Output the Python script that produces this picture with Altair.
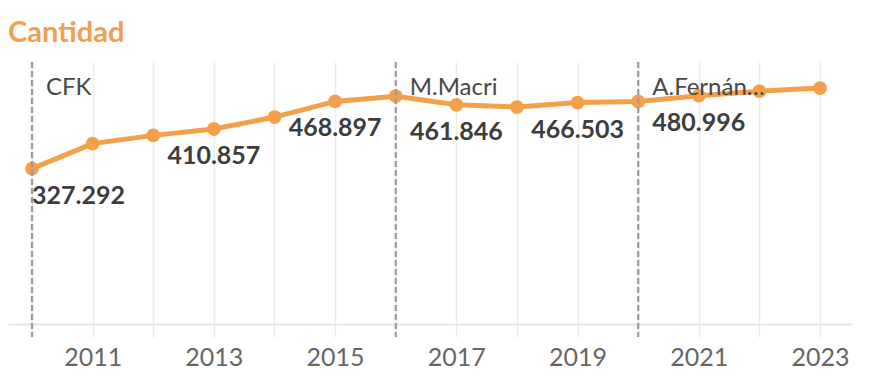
import altair as alt
import pandas as pd

# ---- data ----
years = list(range(2010, 2024))
values = [327.292, 380.0, 397.4, 410.857, 436.0, 468.897, 480.0,
          461.846, 457.0, 466.503, 469.0, 480.996, 490.6, 497.0]
label_years = [2013, 2015, 2017, 2019, 2021]
first_label_year = [2010]
period_years = [2010, 2016, 2020]
period_names = ["CFK", "M.Macri", "A.Fernández"]
odd_years = [2011, 2013, 2015, 2017, 2019, 2021, 2023]
title_text = ["Cantidad"]

ORANGE = "#F4A04B"
FONT = "Lato"

df = pd.DataFrame({"year": years, "value": values})
periods = pd.DataFrame({"year": period_years, "name": period_names})
tdf = pd.DataFrame({"t": title_text})

xscale = alt.Scale(domain=[2009.604, 2023.51], nice=False, zero=False)
yscale = alt.Scale(domain=[0, 552], nice=False)

x = alt.X("year:Q", scale=xscale, title=None,
          axis=alt.Axis(values=years, format="d", grid=True,
                        labelExpr="indexof([" + ",".join(str(v) for v in odd_years) + "], datum.value) >= 0 ? datum.label : ''",
                        labelOverlap=False))
y = alt.Y("value:Q", scale=yscale, axis=None)

base = alt.Chart(df).encode(x=x, y=y)

line = base.mark_line(color=ORANGE, strokeWidth=5)
pts = base.mark_circle(size=190, color=ORANGE, opacity=1)

rules = alt.Chart(periods).mark_rule(color="#9a9a9a", strokeDash=[6, 3], strokeWidth=2.2).encode(
    x=alt.X("year:Q", scale=xscale), y=alt.value(0), y2=alt.value(275))

ptext = alt.Chart(periods).mark_text(align="left", baseline="alphabetic", dx=14, fontSize=24,
                                     color="#484848", font=FONT, limit=122).encode(
    x=alt.X("year:Q", scale=xscale), y=alt.value(33), text="name:N")

lab_first = base.transform_filter(
    alt.FieldOneOfPredicate(field="year", oneOf=first_label_year)
).mark_text(align="left", baseline="alphabetic", dy=35, fontSize=25, fontWeight="bold",
            color="#3d3d3d", font=FONT).encode(text=alt.Text("value:Q", format=".3f"))

lab_rest = base.transform_filter(
    alt.FieldOneOfPredicate(field="year", oneOf=label_years)
).mark_text(align="center", baseline="alphabetic", dy=35, fontSize=25, fontWeight="bold",
            color="#3d3d3d", font=FONT).encode(text=alt.Text("value:Q", format=".3f"))

title = alt.Chart(tdf).mark_text(align="left", baseline="alphabetic", fontSize=29, fontWeight="bold",
                                 color="#EFA054", font=FONT).encode(
    x=alt.value(0), y=alt.value(-20), text="t:N")

chart = alt.layer(line, pts, rules, ptext, lab_first, lab_rest, title).properties(
    width=843, height=262,
    autosize=alt.AutoSizeParams(type="none"),
    padding={"left": 0, "top": 54, "right": 10, "bottom": 50},
).configure_view(stroke=None).configure_axis(
    domainColor="#e6e6e6", domainWidth=2, tickColor="#ececec", tickSize=13, tickWidth=1.5,
    gridColor="#ececec", gridWidth=1.5, labelFontSize=25, labelColor="#666666",
    labelPadding=8, labelFont=FONT,
)

chart.save("out.html", embed_options={"renderer": "svg", "actions": False})
